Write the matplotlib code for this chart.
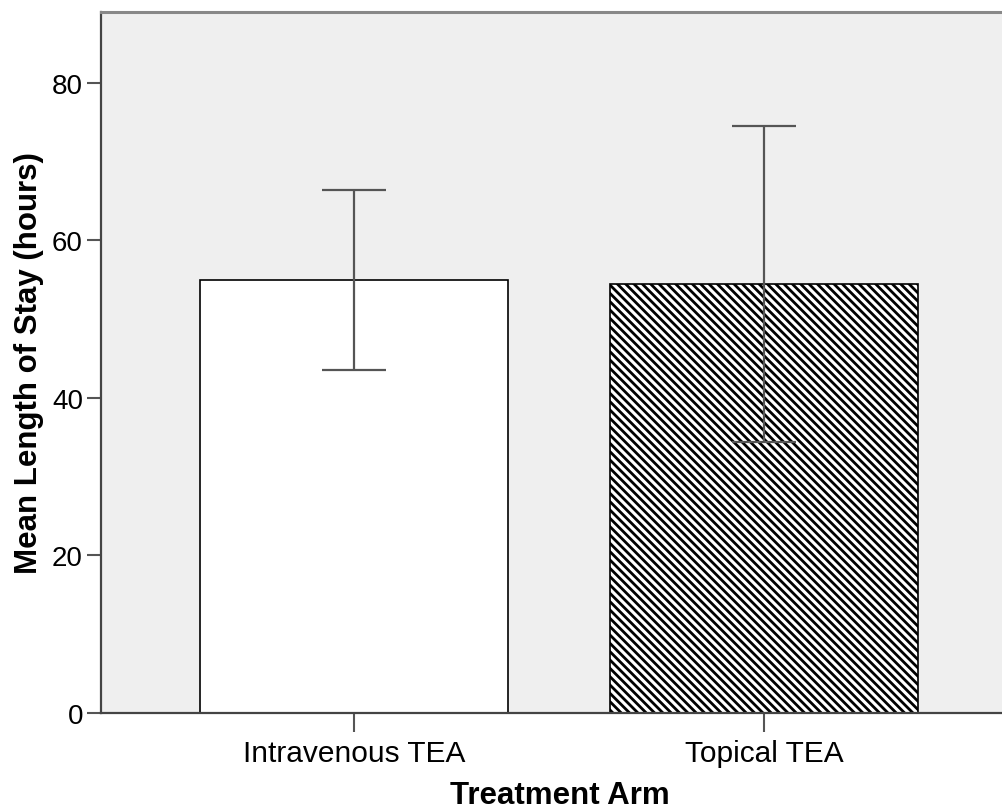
import matplotlib
matplotlib.use("Agg")
import matplotlib.pyplot as plt

categories = ["Intravenous TEA", "Topical TEA"]
means = [55.0, 54.5]
ci_low = [43.5, 34.4]
ci_high = [66.4, 74.5]
hatches = ["", "\\\\\\\\"]
yticks = [0, 20, 40, 60, 80]

plt.rcParams['font.family'] = ['Liberation Sans', 'DejaVu Sans']
plt.rcParams['hatch.linewidth'] = 2.0

W, H = 1003, 812
fig = plt.figure(figsize=(W / 100, H / 100), dpi=100)
left, right, top, bottom = 101, 1018, 13, 714
ax = fig.add_axes([left / W, 1 - bottom / H, (right - left) / W, (bottom - top) / H])
ax.set_facecolor('#efefef')

x = list(range(len(categories)))
for i in x:
    ax.bar(i, means[i], width=0.75, color='white', edgecolor='black',
           linewidth=1.2, hatch=hatches[i], zorder=2)

yerr = [[m - l for m, l in zip(means, ci_low)], [h - m for m, h in zip(means, ci_high)]]
ax.errorbar(x, means, yerr=yerr, fmt='none', ecolor='#555555', elinewidth=1.6,
            capsize=23, capthick=1.6, zorder=3)

ax.set_xlim(-0.617, 1.62)
ax.set_ylim(0, 89)
ax.set_yticks(yticks)
ax.set_xticks(x)
ax.set_xticklabels(categories)
ax.tick_params(axis='y', labelsize=20, length=10, width=1.5, color='#555555',
               direction='out', pad=3)
ax.tick_params(axis='x', labelsize=21.5, length=14, width=1.5, color='#555555',
               direction='out', pad=5)

ax.spines['left'].set_color('#444444')
ax.spines['left'].set_linewidth(1.6)
ax.spines['bottom'].set_color('#444444')
ax.spines['bottom'].set_linewidth(1.6)
ax.spines['top'].set_color('#888888')
ax.spines['top'].set_linewidth(2.2)
ax.spines['right'].set_visible(False)

ax.set_ylabel("Mean Length of Stay (hours)", fontsize=22.5, fontweight='bold', labelpad=6)
ax.set_xlabel("Treatment Arm", fontsize=22.5, fontweight='bold', labelpad=9)

fig.savefig("out.png", dpi=100)
